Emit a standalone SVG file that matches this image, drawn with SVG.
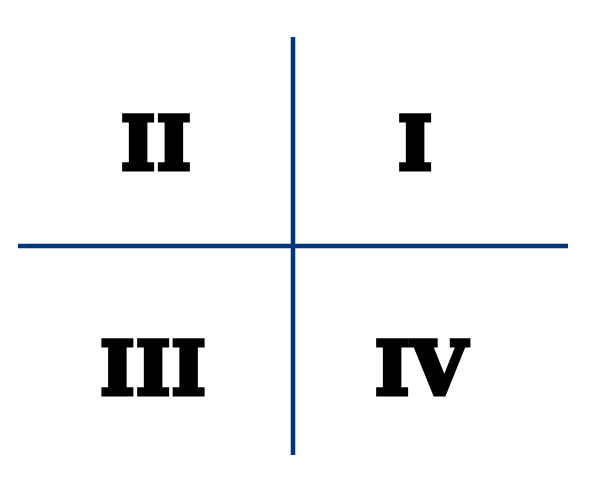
<svg xmlns="http://www.w3.org/2000/svg" width="596" height="477" viewBox="0 0 596 477">
<style>
.axis{stroke:#00377A;stroke-width:4.5;fill:none}
.lbl{font-family:"DejaVu Serif","Liberation Serif",serif;font-weight:bold;font-size:72px;fill:#000;stroke:#000;stroke-width:5;stroke-linejoin:miter;text-anchor:middle;letter-spacing:2px}
</style>
<rect width="596" height="477" fill="#fff"/>
<g id="connectors">
<line class="axis" x1="293" y1="37" x2="293" y2="455"/>
<line class="axis" x1="18" y1="246" x2="568" y2="246"/>
</g>
<g id="q2"><text class="lbl" x="157" y="169">II</text></g>
<g id="q1"><text class="lbl" x="416" y="169">I</text></g>
<g id="q3"><text class="lbl" x="154" y="394">III</text></g>
<g id="q4"><text class="lbl" x="422" y="394">IV</text></g>
</svg>
